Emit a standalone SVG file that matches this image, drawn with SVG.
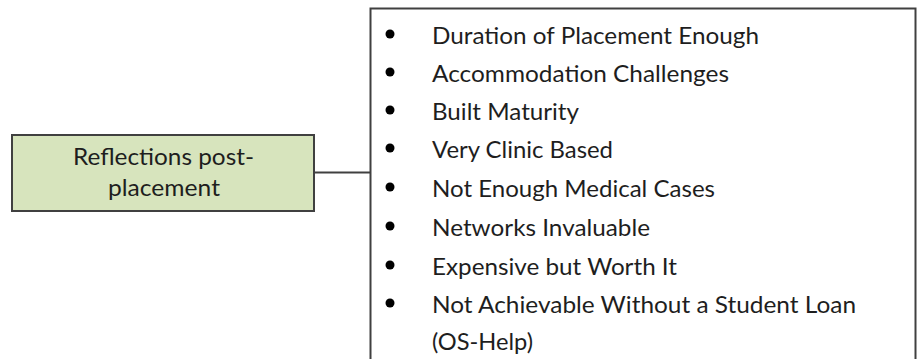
<svg xmlns="http://www.w3.org/2000/svg" width="917" height="359" viewBox="0 0 917 359">
<style>
.box{stroke:#404040;stroke-width:2}
.t{font-family:Lato,"Liberation Sans",sans-serif;font-size:24px;fill:#1e1e1e}
.b{fill:#000}
</style>
<rect width="917" height="359" fill="#fff"/>
<g id="connectors">
<line x1="314" y1="172.5" x2="370.5" y2="172.5" stroke="#404040" stroke-width="2"/>
</g>
<g id="node-reflections">
<rect class="box" x="12" y="135" width="302" height="76" fill="#d7e4bd"/>
<text class="t" x="73" y="165" textLength="181" lengthAdjust="spacingAndGlyphs">Reflections post-</text>
<text class="t" x="108" y="196" textLength="112" lengthAdjust="spacingAndGlyphs">placement</text>
</g>
<g id="node-list">
<rect class="box" x="370.5" y="8.5" width="545" height="370" fill="#fff"/>
<g class="b">
<circle cx="390" cy="34" r="4.5"/>
<circle cx="390" cy="72" r="4.5"/>
<circle cx="390" cy="110" r="4.5"/>
<circle cx="390" cy="148" r="4.5"/>
<circle cx="390" cy="187" r="4.5"/>
<circle cx="390" cy="226" r="4.5"/>
<circle cx="390" cy="265" r="4.5"/>
<circle cx="390" cy="303" r="4.5"/>
</g>
<text class="t" x="432" y="44" textLength="327" lengthAdjust="spacingAndGlyphs">Duration of Placement Enough</text>
<text class="t" x="432" y="82" textLength="297" lengthAdjust="spacingAndGlyphs">Accommodation Challenges</text>
<text class="t" x="432" y="120" textLength="147" lengthAdjust="spacingAndGlyphs">Built Maturity</text>
<text class="t" x="432" y="158" textLength="181" lengthAdjust="spacingAndGlyphs">Very Clinic Based</text>
<text class="t" x="432" y="197" textLength="283" lengthAdjust="spacingAndGlyphs">Not Enough Medical Cases</text>
<text class="t" x="432" y="236" textLength="218" lengthAdjust="spacingAndGlyphs">Networks Invaluable</text>
<text class="t" x="432" y="275" textLength="245" lengthAdjust="spacingAndGlyphs">Expensive but Worth It</text>
<text class="t" x="432" y="313" textLength="424" lengthAdjust="spacingAndGlyphs">Not Achievable Without a Student Loan</text>
<text class="t" x="432" y="350" textLength="101" lengthAdjust="spacingAndGlyphs">(OS-Help)</text>
</g>
</svg>
